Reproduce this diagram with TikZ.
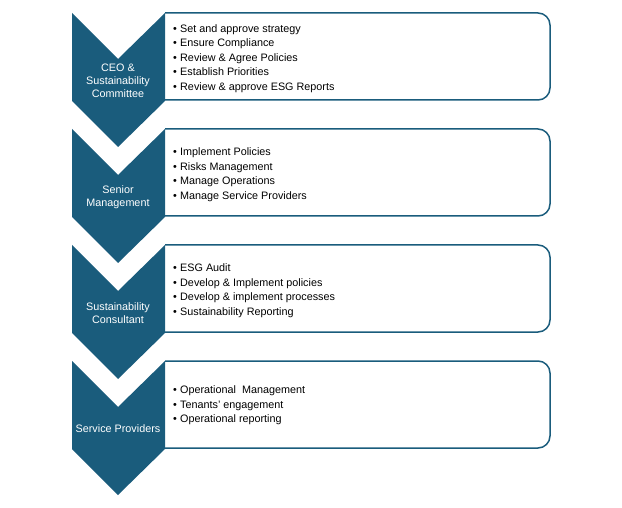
\documentclass[tikz,border=0pt]{standalone}
\usepackage{fontspec}
\setmainfont{Liberation Sans}
\definecolor{esgblue}{RGB}{26,92,124}
\newcommand{\duty}[1]{\makebox[7pt][l]{\textbullet}#1}
\begin{document}
\begin{tikzpicture}[x=1pt,y=-1pt,
  chevron/.style={fill=esgblue},
  panel/.style={draw=esgblue,line width=1.5pt},
  tag/.style={text=white,align=center,inner sep=0pt,font=\fontsize{10.8}{13}\selectfont},
  duties/.style={anchor=west,align=left,inner sep=0pt,font=\fontsize{10.8}{14.5}\selectfont}]
\useasboundingbox (0,0) rectangle (622,508);
% panels and chevrons
\foreach \t/\name/\lbl in {13/ceo/{CEO \&\\Sustainability\\Committee},
  129/senior/{Senior\\Management},
  245/consultant/{Sustainability\\Consultant},
  361/providers/{Service Providers}} {
\draw[panel] (165,\t) -- (538,\t) arc[start angle=-90,end angle=0,radius=12]
  -- (550,\t+75) arc[start angle=0,end angle=90,radius=12] -- (165,\t+87);
\fill[chevron] (72,\t) -- (118,\t+46) -- (165,\t) -- (165,\t+88) -- (118,\t+134) -- (72,\t+88) -- cycle;
\node[tag] (\name) at (118,\t+68) {\lbl};
};
% task lists
\node[duties] (ceotasks) at (173,58.5) {\duty{Set and approve strategy}\\\duty{Ensure Compliance}\\\duty{Review \& Agree Policies}\\\duty{Establish Priorities}\\\duty{Review \& approve ESG Reports}};
\node[duties] (seniortasks) at (173,174.5) {\duty{Implement Policies}\\\duty{Risks Management}\\\duty{Manage Operations}\\\duty{Manage Service Providers}};
\node[duties] (consultanttasks) at (173,290.5) {\duty{ESG Audit}\\\duty{Develop \& Implement policies}\\\duty{Develop \& implement processes}\\\duty{Sustainability Reporting}};
\node[duties] (providertasks) at (173,405.5) {\duty{Operational\ \ Management}\\\duty{Tenants' engagement}\\\duty{Operational reporting}};
\end{tikzpicture}
\end{document}
